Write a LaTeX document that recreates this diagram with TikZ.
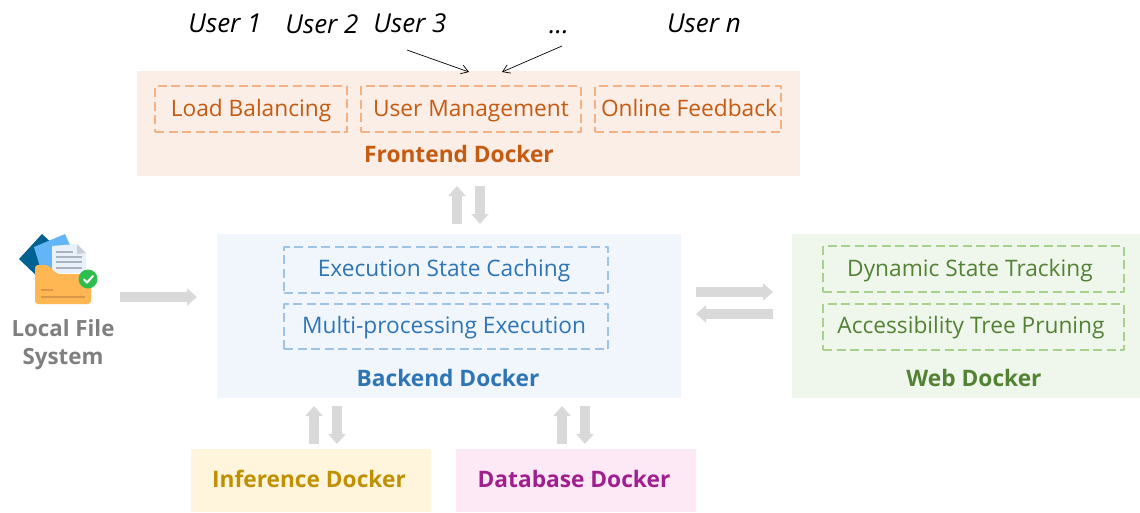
\documentclass[tikz,border=0pt]{standalone}
\usepackage{fontspec}
\setmainfont{Open Sans}
\usetikzlibrary{arrows.meta}
\definecolor{frontfill}{HTML}{FBEEE6}
\definecolor{frontdash}{HTML}{F4B183}
\definecolor{fronttext}{HTML}{C55A11}
\definecolor{backfill}{HTML}{F0F6FB}
\definecolor{backdash}{HTML}{9DC3E6}
\definecolor{backtext}{HTML}{2E75B6}
\definecolor{webfill}{HTML}{EFF6EC}
\definecolor{webdash}{HTML}{A9D18E}
\definecolor{webtext}{HTML}{548235}
\definecolor{inferfill}{HTML}{FFF5DC}
\definecolor{infertext}{HTML}{BF9000}
\definecolor{datafill}{HTML}{FDE8F6}
\definecolor{datatext}{HTML}{A01F8F}
\definecolor{arrowgray}{HTML}{D9D9D9}
\definecolor{labelgray}{HTML}{7F7F7F}
\tikzset{
  dockerbox/.style={inner sep=0pt,outer sep=0pt,anchor=north west},
  modulebox/.style={draw=#1,dashed,line width=1.3pt,dash pattern=on 9pt off 4.5pt,inner sep=0pt,outer sep=0pt,anchor=north west},
  modulelabel/.style={font=\fontsize{22.7}{26}\selectfont,text=#1,text height=16pt,text depth=0pt,inner sep=0pt},
  dockerlabel/.style={font=\fontsize{22.7}{26}\selectfont\bfseries,text=#1,text height=16pt,text depth=0pt,inner sep=0pt},
  userlabel/.style={font=\fontsize{26}{30}\selectfont\itshape,text height=18pt,text depth=0pt,inner sep=0pt},
  blockarrow/.style={draw=arrowgray,line width=9.5pt,-{Triangle[length=10pt,width=17pt]}},
  userarrow/.style={line width=0.7pt,-{Straight Barb[length=7pt,width=9pt]}},
}
\begin{document}
\begin{tikzpicture}[line cap=butt,line join=round,x=1pt,y=-1pt]
\useasboundingbox (0,0) rectangle (1140,512);
\node[dockerbox,fill=frontfill,minimum width=663pt,minimum height=105pt] (frontend) at (137,71) {};
\node[dockerbox,fill=backfill,minimum width=464pt,minimum height=164pt] (backend) at (217,234) {};
\node[dockerbox,fill=webfill,minimum width=348pt,minimum height=164pt] (web) at (792,234) {};
\node[dockerbox,fill=inferfill,minimum width=240pt,minimum height=63pt] (inference) at (191,449) {};
\node[dockerbox,fill=datafill,minimum width=240pt,minimum height=63pt] (database) at (456,449) {};
\node[modulebox=frontdash,minimum width=192pt,minimum height=46pt] (balancing) at (155,86) {};
\node[modulebox=frontdash,minimum width=220pt,minimum height=46pt] (management) at (361,86) {};
\node[modulebox=frontdash,minimum width=186pt,minimum height=46pt] (feedback) at (595,86) {};
\node[modulebox=backdash,minimum width=324pt,minimum height=46pt] (caching) at (284,247) {};
\node[modulebox=backdash,minimum width=324pt,minimum height=45pt] (execution) at (284,304) {};
\node[modulebox=webdash,minimum width=301pt,minimum height=46pt] (tracking) at (823,246) {};
\node[modulebox=webdash,minimum width=301pt,minimum height=46pt] (pruning) at (823,304) {};
\node[modulelabel=fronttext] (balancingtext) at (251,108) {Load Balancing};
\node[modulelabel=fronttext] (managementtext) at (471,108) {User Management};
\node[modulelabel=fronttext] (feedbacktext) at (689,108) {Online Feedback};
\node[modulelabel=backtext] (cachingtext) at (444,268) {Execution State Caching};
\node[modulelabel=backtext] (executiontext) at (444,325) {Multi-processing Execution};
\node[modulelabel=webtext] (trackingtext) at (970,268) {Dynamic State Tracking};
\node[modulelabel=webtext] (pruningtext) at (971,325) {Accessibility Tree Pruning};
\node[dockerlabel=fronttext] (frontendtext) at (459,154) {Frontend Docker};
\node[dockerlabel=backtext] (backendtext) at (448,378) {Backend Docker};
\node[dockerlabel=webtext] (webtext) at (974,378) {Web Docker};
\node[dockerlabel=infertext] (inferencetext) at (309,479) {Inference Docker};
\node[dockerlabel=datatext] (databasetext) at (574,479) {Database Docker};
\node[userlabel] (userone) at (225,23) {User 1};
\node[userlabel] (usertwo) at (322,24) {User 2};
\node[userlabel] (userthree) at (410,23) {User 3};
\node[userlabel] (userdots) at (559,24) {...};
\node[userlabel] (usern) at (704,23) {User n};
\coordinate (userstart) at (407,50);
\coordinate (userend) at (469,72);
\coordinate (dotsstart) at (562,46);
\coordinate (dotsend) at (502,72);
\draw [userarrow] (userstart) -- (userend);
\draw [userarrow] (dotsstart) -- (dotsend);
\coordinate (frontup) at (457,0);
\coordinate (frontdown) at (480,0);
\coordinate (inferup) at (314,0);
\coordinate (inferdown) at (337,0);
\coordinate (dataup) at (562,0);
\coordinate (datadown) at (585,0);
\coordinate (webright) at (0,292);
\coordinate (webleft) at (0,314);
\coordinate (localrow) at (0,297);
\draw [blockarrow,shorten <=10pt,shorten >=10pt] (backend.north -| frontup) -- (frontend.south -| frontup);
\draw [blockarrow,shorten <=10pt,shorten >=10pt] (frontend.south -| frontdown) -- (backend.north -| frontdown);
\draw [blockarrow,shorten <=5pt,shorten >=8pt] (inference.north -| inferup) -- (backend.south -| inferup);
\draw [blockarrow,shorten <=8pt,shorten >=5pt] (backend.south -| inferdown) -- (inference.north -| inferdown);
\draw [blockarrow,shorten <=5pt,shorten >=8pt] (database.north -| dataup) -- (backend.south -| dataup);
\draw [blockarrow,shorten <=8pt,shorten >=5pt] (backend.south -| datadown) -- (database.north -| datadown);
\draw [blockarrow,shorten <=15pt,shorten >=19pt] (backend.east |- webright) -- (web.west |- webright);
\draw [blockarrow,shorten <=19pt,shorten >=15pt] (web.west |- webleft) -- (backend.east |- webleft);
\node[font=\fontsize{22.3}{28}\selectfont\bfseries,text=labelgray,align=center] (localfile) at (63,345) {Local File\\System};
\coordinate (localstart) at (120,297);
\draw [blockarrow,shorten >=20pt] (localstart) -- (backend.west |- localrow);
\fill [fill={rgb,255:red,0;green,98;blue,144}] (19,259) -- (42,234) -- (67,257) -- (43,282) -- cycle;
\fill [fill={rgb,255:red,100;green,181;blue,246}] (34,247) -- (65,234) -- (80,267) -- (43,277) -- cycle;
\fill [fill={rgb,255:red,232;green,241;blue,250}] (52,246) -- (77,244) -- (86,253) -- (86,273) -- (52,273) -- cycle;
\fill [fill={rgb,255:red,200;green,206;blue,216}] (77,244) -- (86,253) -- (77,254) -- cycle;
\draw [line width=1.5pt,draw={rgb,255:red,169;green,180;blue,192}] (56,252) -- (73,252);
\foreach \liney in {257,262,268}
  \draw [line width=1.5pt,draw={rgb,255:red,169;green,180;blue,192}] (56,\liney) -- (82,\liney);
\fill [rounded corners=3pt,fill={rgb,255:red,255;green,183;blue,84}] (35,265) -- (48,265) -- (57,274) -- (91,274) -- (91,304) -- (35,304) -- cycle;
\draw [line width=1.5pt,draw={rgb,255:red,217;green,151;blue,74}] (41,290) -- (53,290);
\draw [line width=1.5pt,draw={rgb,255:red,217;green,151;blue,74}] (41,297) -- (85,297);
\fill [fill={rgb,255:red,45;green,190;blue,78}] (88,279) circle (9.5pt);
\draw [line width=2pt,draw=white,line cap=round] (84,279.5) -- (87,282.5) -- (93,276);
\end{tikzpicture}
\end{document}
